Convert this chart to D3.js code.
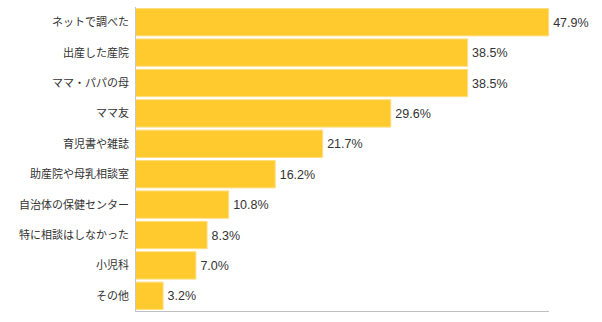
<!DOCTYPE html>
<html><head><meta charset="utf-8">
<script src="https://cdn.jsdelivr.net/npm/d3@7"></script>
<style>
html,body{margin:0;padding:0;background:#fff;}
svg{display:block;font-family:"Noto Sans CJK JP","Noto Sans",sans-serif;}
</style></head>
<body>
<svg id="chart" width="602" height="322"></svg>
<script>
const categories = ["ネットで調べた","出産した産院","ママ・パパの母","ママ友","育児書や雑誌","助産院や母乳相談室","自治体の保健センター","特に相談はしなかった","小児科","その他"];
const values = [47.9,38.5,38.5,29.6,21.7,16.2,10.8,8.3,7.0,3.2];
const valueLabels = ["47.9%","38.5%","38.5%","29.6%","21.7%","16.2%","10.8%","8.3%","7.0%","3.2%"];

const svg = d3.select("#chart");
const mLeft = 135, mRight = 549, mTop = 7, mBottom = 311;
const x = d3.scaleLinear().domain([0, 48]).range([mLeft, mRight]);
const y = d3.scaleBand().domain(categories).range([mTop, mBottom]).paddingInner(0.1).paddingOuter(0.05);

svg.append("g").selectAll("rect").data(categories).join("rect")
  .attr("x", x(0)+0.5)
  .attr("y", d => y(d))
  .attr("width", (d,i) => x(values[i]) - x(0))
  .attr("height", y.bandwidth())
  .attr("fill", "#FFCA2E")
  .attr("stroke", "#FFDD80")
  .attr("stroke-width", 1);

svg.append("line").attr("x1", mLeft).attr("x2", mLeft).attr("y1", mTop).attr("y2", mBottom)
  .attr("stroke", "#c8c8c8").attr("stroke-width", 1).attr("shape-rendering","crispEdges");
svg.append("line").attr("x1", mLeft).attr("x2", mRight).attr("y1", mBottom).attr("y2", mBottom)
  .attr("stroke", "#c0c0c0").attr("stroke-width", 1).attr("shape-rendering","crispEdges");

svg.append("g").selectAll("text").data(categories).join("text")
  .attr("x", mLeft - 6)
  .attr("y", d => y(d) + y.bandwidth()/2)
  .attr("dy", "0.36em")
  .attr("text-anchor", "end")
  .attr("font-size", 11)
  .attr("fill", "#333")
  .text(d => d);

svg.append("g").selectAll("text").data(categories).join("text")
  .attr("x", (d,i) => x(values[i]) + 5)
  .attr("y", d => y(d) + y.bandwidth()/2)
  .attr("dy", "0.36em")
  .attr("font-family", "'Liberation Sans', Arial, sans-serif")
  .attr("font-size", 12.5)
  .attr("fill", "#333")
  .text((d,i) => valueLabels[i]);
</script>
</body></html>
